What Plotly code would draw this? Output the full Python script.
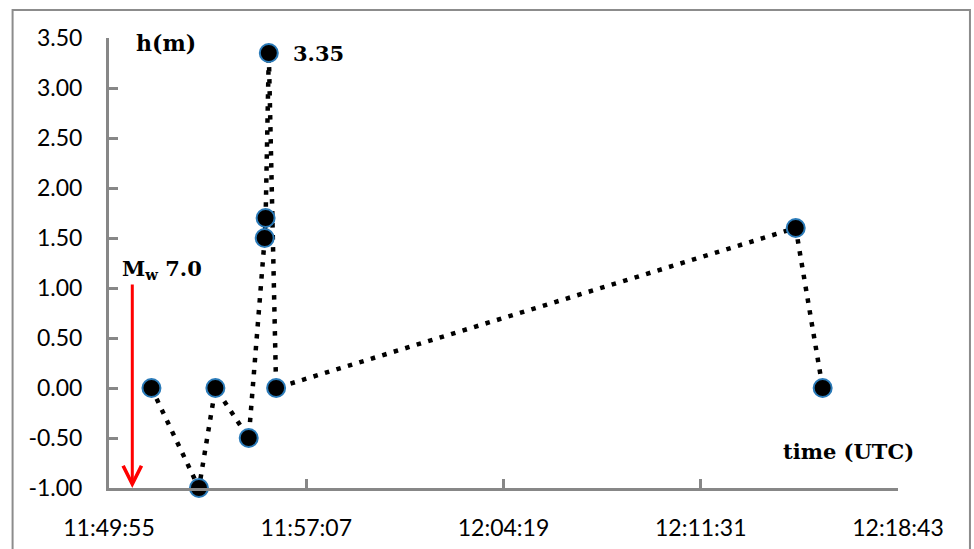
import plotly.graph_objects as go

DAY = "2000-01-01 "

# Observed water level (m) against time of observation (UTC)
times = ["11:51:28", "11:53:12", "11:53:48", "11:55:01", "11:55:36",
         "11:55:38", "11:55:45", "11:56:01", "12:14:59", "12:15:58"]
heights = [0.0, -1.0, 0.0, -0.5, 1.5, 1.7, 3.35, 0.0, 1.6, 0.0]

# Earthquake origin time and the top of its marker arrow
quake_time = "11:50:46"
quake_label_level = 1.05

# Axis ticks
x_ticks = ["11:49:55", "11:57:07", "12:04:19", "12:11:31", "12:18:43"]
y_ticks = [-1.0, -0.5, 0.0, 0.5, 1.0, 1.5, 2.0, 2.5, 3.0, 3.5]
y_tick_text = ["-1.00", "-0.50", "0.00", "0.50", "1.00", "1.50",
               "2.00", "2.50", "3.00", "3.50"]

AXIS_GREY = "#878787"
TICK_FONT = dict(family="Lato, Calibri, sans-serif", size=23, color="#000000")
BOLD_SERIF = "DejaVu Serif, Cambria, serif"

peak = max(heights)
peak_time = times[heights.index(peak)]

fig = go.Figure()

fig.add_trace(go.Scatter(
    x=[DAY + t for t in times],
    y=heights,
    mode="lines+markers",
    line=dict(color="#000000", width=4.5, dash="4.5px,7.5px"),
    marker=dict(size=18, color="#000000",
                line=dict(color="#2a7ab8", width=2)),
    cliponaxis=False,
    showlegend=False,
))

annotations = [
    # earthquake arrow
    dict(x=DAY + quake_time, y=-1.0, xref="x", yref="y",
         ax=DAY + quake_time, ay=quake_label_level, axref="x", ayref="y",
         text="", showarrow=True, arrowhead=5, arrowsize=1.2,
         arrowwidth=3, arrowcolor="#ff0000", standoff=0),
    dict(x=DAY + quake_time, y=quake_label_level, xref="x", yref="y",
         text="<b>M<sub>w</sub> 7.0</b>", showarrow=False,
         xanchor="left", yanchor="bottom", xshift=-12, yshift=-2,
         font=dict(family=BOLD_SERIF, size=21, color="#000000")),
    # peak value
    dict(x=DAY + peak_time, y=peak, xref="x", yref="y",
         text="<b>%.2f</b>" % peak, showarrow=False,
         xanchor="left", yanchor="middle", xshift=22,
         font=dict(family=BOLD_SERIF, size=21, color="#000000")),
    # axis titles
    dict(x=0.072, y=0.989, xref="paper", yref="paper",
         text="<b>h(m)</b>", showarrow=False,
         xanchor="center", yanchor="middle",
         font=dict(family=BOLD_SERIF, size=22, color="#000000")),
    dict(x=0.9367, y=0.0807, xref="paper", yref="paper",
         text="<b>time (UTC)</b>", showarrow=False,
         xanchor="center", yanchor="middle",
         font=dict(family=BOLD_SERIF, size=21, color="#000000")),
]

fig.update_layout(
    width=974, height=549,
    margin=dict(l=108.5, r=76, t=38, b=61),
    paper_bgcolor="#ffffff",
    plot_bgcolor="#ffffff",
    annotations=annotations,
    shapes=[dict(type="rect", xref="paper", yref="paper",
                 x0=-0.1222, x1=1.0912, y0=-0.2, y1=1.0622,
                 line=dict(color="#8c8c8c", width=2), layer="below")],
)

fig.update_xaxes(
    type="date",
    range=[DAY + x_ticks[0], DAY + x_ticks[-1]],
    tickmode="array",
    tickvals=[DAY + t for t in x_ticks],
    ticktext=x_ticks,
    showgrid=False, zeroline=False,
    showline=True, linecolor=AXIS_GREY, linewidth=3,
    ticks="inside", ticklen=9, tickwidth=3, tickcolor=AXIS_GREY,
    ticklabelstandoff=17,
    tickfont=TICK_FONT,
    automargin=False,
)

fig.update_yaxes(
    range=[-1.0, 3.5],
    tickmode="array",
    tickvals=y_ticks,
    ticktext=y_tick_text,
    showgrid=False, zeroline=False,
    showline=True, linecolor=AXIS_GREY, linewidth=3,
    ticks="inside", ticklen=9, tickwidth=3, tickcolor=AXIS_GREY,
    ticklabelstandoff=19,
    tickfont=TICK_FONT,
    automargin=False,
)

fig.write_html("out.html")
